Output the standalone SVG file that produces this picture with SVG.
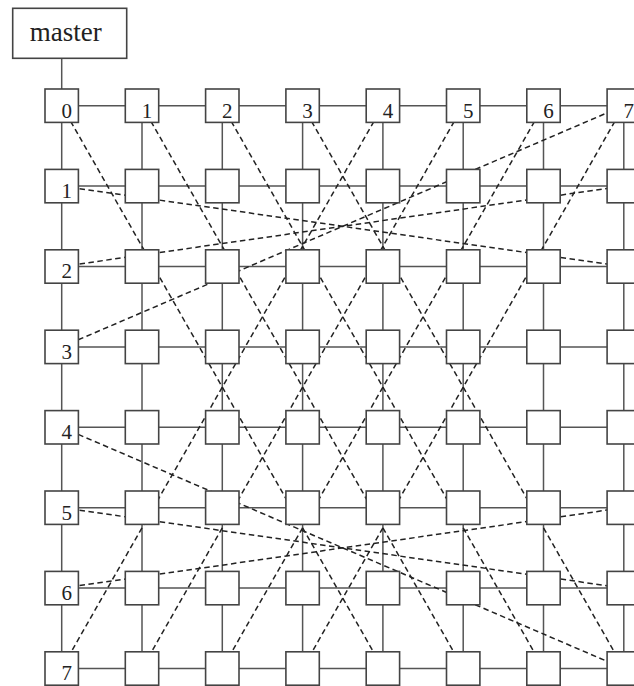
<svg xmlns="http://www.w3.org/2000/svg" width="634" height="686" viewBox="0 0 634 686">
<style>
.box{fill:#fff;stroke:#444;stroke-width:1.6}
.grid{fill:none;stroke:#555;stroke-width:1.5}
.dash{fill:none;stroke:#222;stroke-width:1.5;stroke-dasharray:5.5 3.5}
.lbl{font-family:"Liberation Serif","Times New Roman",serif;font-size:21px;text-anchor:middle;fill:#222}
.mlbl{font-family:"Liberation Serif","Times New Roman",serif;font-size:27px;text-anchor:middle;fill:#222}
</style>
<rect width="634" height="686" fill="#fff"/>
<g id="connectors">
<path class="grid" d="M61.7 58.3V105.7"/>
<path class="grid" d="M61.7 105.7H623.8M61.7 186.1H623.8M61.7 266.5H623.8M61.7 346.9H623.8M61.7 427.3H623.8M61.7 507.7H623.8M61.7 588.1H623.8M61.7 668.5H623.8"/>
<path class="grid" d="M61.7 105.7V668.5M142 105.7V668.5M222.3 105.7V668.5M302.6 105.7V668.5M382.9 105.7V668.5M463.2 105.7V668.5M543.5 105.7V668.5M623.8 105.7V668.5"/>
<path class="dash" d="M61.7 105.7L382.9 668.5"/>
<path class="dash" d="M142 105.7L463.2 668.5"/>
<path class="dash" d="M222.3 105.7L543.5 668.5"/>
<path class="dash" d="M302.6 105.7L623.8 668.5"/>
<path class="dash" d="M382.9 105.7L61.7 668.5"/>
<path class="dash" d="M463.2 105.7L142 668.5"/>
<path class="dash" d="M543.5 105.7L222.3 668.5"/>
<path class="dash" d="M623.8 105.7L302.6 668.5"/>
<path class="dash" d="M61.7 186.1L623.8 266.5"/>
<path class="dash" d="M61.7 266.5L623.8 186.1"/>
<path class="dash" d="M61.7 346.9L623.8 105.7"/>
<path class="dash" d="M61.7 427.3L623.8 668.5"/>
<path class="dash" d="M61.7 507.7L623.8 588.1"/>
<path class="dash" d="M61.7 588.1L623.8 507.7"/>
</g>
<g id="master"><rect class="box" x="12.7" y="8.3" width="114" height="50"/><text class="mlbl" x="65.7" y="41">master</text></g>
<g id="n0_0"><rect class="box" x="45" y="89" width="33.4" height="33.4"/><text class="lbl" x="66.7" y="117.6">0</text></g>
<g id="n0_1"><rect class="box" x="125.3" y="89" width="33.4" height="33.4"/><text class="lbl" x="147" y="117.6">1</text></g>
<g id="n0_2"><rect class="box" x="205.6" y="89" width="33.4" height="33.4"/><text class="lbl" x="227.3" y="117.6">2</text></g>
<g id="n0_3"><rect class="box" x="285.9" y="89" width="33.4" height="33.4"/><text class="lbl" x="307.6" y="117.6">3</text></g>
<g id="n0_4"><rect class="box" x="366.2" y="89" width="33.4" height="33.4"/><text class="lbl" x="387.9" y="117.6">4</text></g>
<g id="n0_5"><rect class="box" x="446.5" y="89" width="33.4" height="33.4"/><text class="lbl" x="468.2" y="117.6">5</text></g>
<g id="n0_6"><rect class="box" x="526.8" y="89" width="33.4" height="33.4"/><text class="lbl" x="548.5" y="117.6">6</text></g>
<g id="n0_7"><rect class="box" x="607.1" y="89" width="33.4" height="33.4"/><text class="lbl" x="628.8" y="117.6">7</text></g>
<g id="n1_0"><rect class="box" x="45" y="169.4" width="33.4" height="33.4"/><text class="lbl" x="66.7" y="198">1</text></g>
<g id="n1_1"><rect class="box" x="125.3" y="169.4" width="33.4" height="33.4"/></g>
<g id="n1_2"><rect class="box" x="205.6" y="169.4" width="33.4" height="33.4"/></g>
<g id="n1_3"><rect class="box" x="285.9" y="169.4" width="33.4" height="33.4"/></g>
<g id="n1_4"><rect class="box" x="366.2" y="169.4" width="33.4" height="33.4"/></g>
<g id="n1_5"><rect class="box" x="446.5" y="169.4" width="33.4" height="33.4"/></g>
<g id="n1_6"><rect class="box" x="526.8" y="169.4" width="33.4" height="33.4"/></g>
<g id="n1_7"><rect class="box" x="607.1" y="169.4" width="33.4" height="33.4"/></g>
<g id="n2_0"><rect class="box" x="45" y="249.8" width="33.4" height="33.4"/><text class="lbl" x="66.7" y="278.4">2</text></g>
<g id="n2_1"><rect class="box" x="125.3" y="249.8" width="33.4" height="33.4"/></g>
<g id="n2_2"><rect class="box" x="205.6" y="249.8" width="33.4" height="33.4"/></g>
<g id="n2_3"><rect class="box" x="285.9" y="249.8" width="33.4" height="33.4"/></g>
<g id="n2_4"><rect class="box" x="366.2" y="249.8" width="33.4" height="33.4"/></g>
<g id="n2_5"><rect class="box" x="446.5" y="249.8" width="33.4" height="33.4"/></g>
<g id="n2_6"><rect class="box" x="526.8" y="249.8" width="33.4" height="33.4"/></g>
<g id="n2_7"><rect class="box" x="607.1" y="249.8" width="33.4" height="33.4"/></g>
<g id="n3_0"><rect class="box" x="45" y="330.2" width="33.4" height="33.4"/><text class="lbl" x="66.7" y="358.8">3</text></g>
<g id="n3_1"><rect class="box" x="125.3" y="330.2" width="33.4" height="33.4"/></g>
<g id="n3_2"><rect class="box" x="205.6" y="330.2" width="33.4" height="33.4"/></g>
<g id="n3_3"><rect class="box" x="285.9" y="330.2" width="33.4" height="33.4"/></g>
<g id="n3_4"><rect class="box" x="366.2" y="330.2" width="33.4" height="33.4"/></g>
<g id="n3_5"><rect class="box" x="446.5" y="330.2" width="33.4" height="33.4"/></g>
<g id="n3_6"><rect class="box" x="526.8" y="330.2" width="33.4" height="33.4"/></g>
<g id="n3_7"><rect class="box" x="607.1" y="330.2" width="33.4" height="33.4"/></g>
<g id="n4_0"><rect class="box" x="45" y="410.6" width="33.4" height="33.4"/><text class="lbl" x="66.7" y="439.2">4</text></g>
<g id="n4_1"><rect class="box" x="125.3" y="410.6" width="33.4" height="33.4"/></g>
<g id="n4_2"><rect class="box" x="205.6" y="410.6" width="33.4" height="33.4"/></g>
<g id="n4_3"><rect class="box" x="285.9" y="410.6" width="33.4" height="33.4"/></g>
<g id="n4_4"><rect class="box" x="366.2" y="410.6" width="33.4" height="33.4"/></g>
<g id="n4_5"><rect class="box" x="446.5" y="410.6" width="33.4" height="33.4"/></g>
<g id="n4_6"><rect class="box" x="526.8" y="410.6" width="33.4" height="33.4"/></g>
<g id="n4_7"><rect class="box" x="607.1" y="410.6" width="33.4" height="33.4"/></g>
<g id="n5_0"><rect class="box" x="45" y="491" width="33.4" height="33.4"/><text class="lbl" x="66.7" y="519.6">5</text></g>
<g id="n5_1"><rect class="box" x="125.3" y="491" width="33.4" height="33.4"/></g>
<g id="n5_2"><rect class="box" x="205.6" y="491" width="33.4" height="33.4"/></g>
<g id="n5_3"><rect class="box" x="285.9" y="491" width="33.4" height="33.4"/></g>
<g id="n5_4"><rect class="box" x="366.2" y="491" width="33.4" height="33.4"/></g>
<g id="n5_5"><rect class="box" x="446.5" y="491" width="33.4" height="33.4"/></g>
<g id="n5_6"><rect class="box" x="526.8" y="491" width="33.4" height="33.4"/></g>
<g id="n5_7"><rect class="box" x="607.1" y="491" width="33.4" height="33.4"/></g>
<g id="n6_0"><rect class="box" x="45" y="571.4" width="33.4" height="33.4"/><text class="lbl" x="66.7" y="600">6</text></g>
<g id="n6_1"><rect class="box" x="125.3" y="571.4" width="33.4" height="33.4"/></g>
<g id="n6_2"><rect class="box" x="205.6" y="571.4" width="33.4" height="33.4"/></g>
<g id="n6_3"><rect class="box" x="285.9" y="571.4" width="33.4" height="33.4"/></g>
<g id="n6_4"><rect class="box" x="366.2" y="571.4" width="33.4" height="33.4"/></g>
<g id="n6_5"><rect class="box" x="446.5" y="571.4" width="33.4" height="33.4"/></g>
<g id="n6_6"><rect class="box" x="526.8" y="571.4" width="33.4" height="33.4"/></g>
<g id="n6_7"><rect class="box" x="607.1" y="571.4" width="33.4" height="33.4"/></g>
<g id="n7_0"><rect class="box" x="45" y="651.8" width="33.4" height="33.4"/><text class="lbl" x="66.7" y="680.4">7</text></g>
<g id="n7_1"><rect class="box" x="125.3" y="651.8" width="33.4" height="33.4"/></g>
<g id="n7_2"><rect class="box" x="205.6" y="651.8" width="33.4" height="33.4"/></g>
<g id="n7_3"><rect class="box" x="285.9" y="651.8" width="33.4" height="33.4"/></g>
<g id="n7_4"><rect class="box" x="366.2" y="651.8" width="33.4" height="33.4"/></g>
<g id="n7_5"><rect class="box" x="446.5" y="651.8" width="33.4" height="33.4"/></g>
<g id="n7_6"><rect class="box" x="526.8" y="651.8" width="33.4" height="33.4"/></g>
<g id="n7_7"><rect class="box" x="607.1" y="651.8" width="33.4" height="33.4"/></g>
</svg>
